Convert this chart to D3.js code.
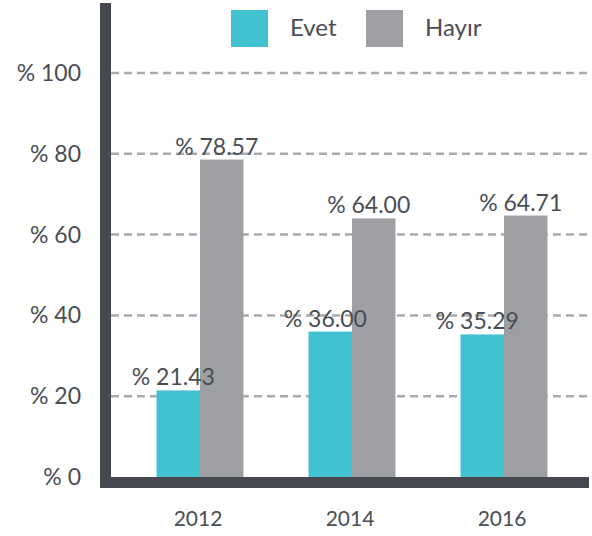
<!DOCTYPE html>
<html>
<head>
<meta charset="utf-8">
<script src="https://cdn.jsdelivr.net/npm/d3@7"></script>
<style>
  body { margin: 0; background: #fff; }
  text { font-family: "Lato", "Noto Sans", sans-serif; fill: #4a4d54; }
</style>
</head>
<body>
<svg id="chart" width="592" height="536"></svg>
<script>
// chart data
const years = ["2012", "2014", "2016"];
const seriesNames = ["Evet", "Hayır"];
const evet = [21.43, 36.0, 35.29];
const hayir = [78.57, 64.0, 64.71];
const yTicks = [0, 20, 40, 60, 80, 100];

const colors = { Evet: "#42c2d0", "Hayır": "#9e9fa2" };
const axisColor = "#45484e";

const svg = d3.select("#chart");

const y = d3.scaleLinear().domain([0, 100]).range([477, 73]);
const x = d3.scaleBand()
  .domain(years)
  .range([124, 580])
  .paddingInner(0.428)
  .paddingOuter(0.214);
const xSub = d3.scaleBand().domain(seriesNames).range([0, x.bandwidth()]);

const rows = years.map((yr, i) => ({ year: yr, Evet: evet[i], "Hayır": hayir[i] }));

// dashed gridlines
svg.append("g")
  .selectAll("line")
  .data(yTicks.filter((d) => d > 0))
  .join("line")
  .attr("x1", 111)
  .attr("x2", 589)
  .attr("y1", (d) => y(d))
  .attr("y2", (d) => y(d))
  .attr("stroke", "#a9aaac")
  .attr("stroke-width", 2.5)
  .attr("stroke-dasharray", "8,5");

// y tick labels
svg.append("g")
  .selectAll("text")
  .data(yTicks)
  .join("text")
  .attr("x", 81)
  .attr("y", (d) => y(d) + 8)
  .attr("text-anchor", "end")
  .attr("font-size", 23)
  .text((d) => "% " + d);

// bars
const groups = svg.append("g")
  .selectAll("g")
  .data(rows)
  .join("g")
  .attr("transform", (d) => `translate(${x(d.year)},0)`);

groups.selectAll("rect")
  .data((d) => seriesNames.map((k) => ({ key: k, value: d[k] })))
  .join("rect")
  .attr("x", (d) => xSub(d.key))
  .attr("width", xSub.bandwidth())
  .attr("y", (d) => y(d.value))
  .attr("height", (d) => y(0) - y(d.value))
  .attr("fill", (d) => colors[d.key]);

groups.selectAll("text.val")
  .data((d) => seriesNames.map((k) => ({ key: k, value: d[k] })))
  .join("text")
  .attr("class", "val")
  .attr("x", (d) => xSub(d.key) + xSub.bandwidth() / 2 - 5)
  .attr("y", (d) => y(d.value) - 5)
  .attr("text-anchor", "middle")
  .attr("font-size", 23)
  .text((d) => "% " + d.value.toFixed(2));

// axes (thick bars)
svg.append("rect")
  .attr("x", 100).attr("y", 3)
  .attr("width", 11).attr("height", y(0) + 11 - 3)
  .attr("fill", axisColor);
svg.append("rect")
  .attr("x", 100).attr("y", y(0))
  .attr("width", 489).attr("height", 11)
  .attr("fill", axisColor);

// year labels
svg.append("g")
  .selectAll("text")
  .data(years)
  .join("text")
  .attr("x", (d) => x(d) + x.bandwidth() / 2 - 2)
  .attr("y", 526)
  .attr("text-anchor", "middle")
  .attr("font-size", 21)
  .text((d) => d);

// legend
const legend = svg.append("g")
  .selectAll("g")
  .data(seriesNames)
  .join("g")
  .attr("transform", (d, i) => `translate(${231 + i * 135},10)`);
legend.append("rect")
  .attr("width", 37).attr("height", 37)
  .attr("fill", (d) => colors[d]);
legend.append("text")
  .attr("x", 59)
  .attr("y", 26)
  .attr("font-size", 24)
  .text((d) => d);
</script>
</body>
</html>
